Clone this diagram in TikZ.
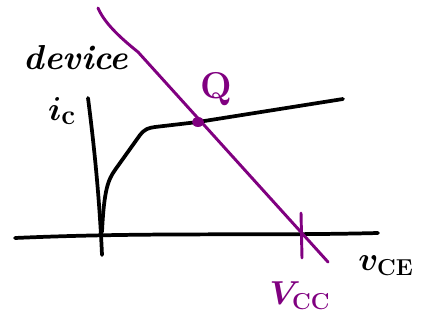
\documentclass[tikz,border=0pt]{standalone}
\usetikzlibrary{calc}
\definecolor{pur}{RGB}{128,0,128}
\begin{document}
\begin{tikzpicture}[x=0.75pt,y=-0.75pt,
  ink/.style={line width=2.8pt,line cap=round,line join=round,black},
  pink/.style={line width=2.2pt,line cap=round,line join=round,pur},
  lbl/.style={inner sep=0pt}]
\useasboundingbox (0,0) rectangle (427,320);
% axes
\draw[ink] (15,238) .. controls (150,232) and (260,236) .. (378,233);
\draw[ink] (88,98) .. controls (96,160) and (100,210) .. (102,255);
% characteristic curve
\coordinate (q) at (198,122);
\draw[ink] (102,232) .. controls (104,190) and (108,180) .. (115,170)
  -- (140,135) .. controls (145,129) and (148,128) .. (155,127)
  -- (q) -- (343,99);
% load line
\coordinate (lt) at (98,8);
\coordinate (lb) at (328,262);
\draw[pink] (lt) .. controls (104,22) and (118,36) .. (138,52) -- (lb);
% tick at Vcc
\coordinate (tt) at (301,213);
\coordinate (tb) at (302,258);
\draw[pink] (tt) -- (tb);
\fill[pur] (q) ellipse (6 and 5);
% labels
\node[lbl,font=\fontsize{26}{28}\selectfont\bfseries\itshape] (dev) at (76,58) {device};
\node[lbl,font=\fontsize{28}{30}\selectfont\boldmath] (ic) at (62,111) {$i_{\mathrm{c}}$};
\node[lbl,font=\fontsize{28}{30}\selectfont\bfseries,text=pur] (Q) at (216,89) {Q};
\node[lbl,font=\fontsize{24}{26}\selectfont\boldmath,text=pur] (vcc) at (300,296) {$V_{\mathrm{CC}}$};
\node[lbl,font=\fontsize{26}{28}\selectfont\boldmath] (vce) at (386,266) {$v_{\mathrm{CE}}$};
\end{tikzpicture}
\end{document}
